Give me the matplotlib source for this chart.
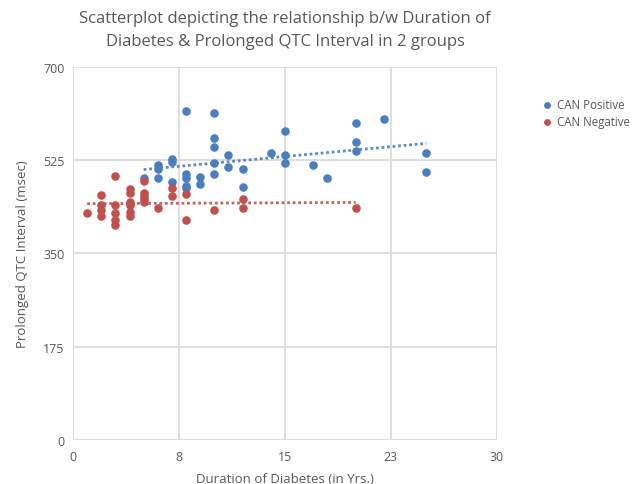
import matplotlib
matplotlib.use("Agg")
import matplotlib.pyplot as plt
import numpy as np

plt.rcParams['font.family'] = ['Open Sans', 'DejaVu Sans']

# CAN Positive (duration in yrs, QTc msec)
pos_x = [8, 10, 10, 10, 10, 10, 15, 15, 15, 14, 11, 11, 12, 12, 9, 9,
         8, 8, 8, 8, 7, 7, 7, 6, 6, 6, 5, 20, 22, 20, 20, 25, 25, 17, 18]
pos_y = [618, 613, 566, 550, 520, 500, 579, 535, 519, 539, 535, 513, 508, 474, 494, 480,
         500, 491, 477, 472, 528, 522, 484, 516, 508, 491, 491, 594, 603, 560, 543, 538, 502, 516, 491]

# CAN Negative
neg_x = [1, 2, 2, 2, 2, 3, 3, 3, 3, 3, 4, 4, 4, 4, 4, 4,
         5, 5, 5, 5, 5, 6, 7, 7, 8, 8, 10, 12, 12, 20]
neg_y = [425, 459, 440, 432, 420, 495, 440, 425, 412, 404, 471, 463, 446, 441, 428, 421,
         486, 464, 458, 452, 446, 435, 472, 457, 461, 412, 431, 452, 435, 435]

x_ticks = [0, 7.5, 15, 22.5, 30]
x_labels = ["0", "8", "15", "23", "30"]
y_ticks = [0, 175, 350, 525, 700]

blue = "#4A7EBF"
red = "#C0504D"
txt = "#595959"

fig = plt.figure(figsize=(6.37, 4.85), dpi=100)
ax = fig.add_axes([0.1146, 0.0907, 0.6656, 0.7693])

ax.scatter(pos_x, pos_y, s=38, color=blue, zorder=3, label="CAN Positive", linewidths=0)
ax.scatter(neg_x, neg_y, s=38, color=red, zorder=3, label="CAN Negative", linewidths=0)

for xs, ys, c in [(pos_x, pos_y, blue), (neg_x, neg_y, red)]:
    k, b = np.polyfit(xs, ys, 1)
    xx = np.array([min(xs), max(xs)])
    ax.plot(xx, k * xx + b, linestyle=(0, (1, 1)), color=c, lw=2.0, zorder=2, alpha=0.9)

ax.set_xlim(0, 30)
ax.set_ylim(0, 700)
ax.set_xticks(x_ticks)
ax.set_xticklabels(x_labels)
ax.set_yticks(y_ticks)
ax.grid(True, color="#d9d9d9", lw=1.2, zorder=0)
ax.set_axisbelow(True)
for s in ax.spines.values():
    s.set_visible(False)
ax.tick_params(axis='both', colors=txt, labelsize=9, length=0, pad=6)
ax.tick_params(axis='x', pad=7)

ax.set_xlabel("Duration of Diabetes (in Yrs.)", color=txt, fontsize=9.5, labelpad=7)
ax.set_ylabel("Prolonged QTC Interval (msec)", color=txt, fontsize=9.5, labelpad=10)
ax.set_title("Scatterplot depicting the relationship b/w Duration of\nDiabetes & Prolonged QTC Interval in 2 groups",
             color=txt, fontsize=12, pad=16, linespacing=1.55)

leg = fig.legend(loc="upper left", bbox_to_anchor=(0.842, 0.805), frameon=False,
                 fontsize=8.3, handletextpad=0.4, labelspacing=0.3, markerscale=0.8,
                 handlelength=1.0, borderaxespad=0)
for t in leg.get_texts():
    t.set_color(txt)

fig.savefig("out.png", dpi=100, facecolor="white")
